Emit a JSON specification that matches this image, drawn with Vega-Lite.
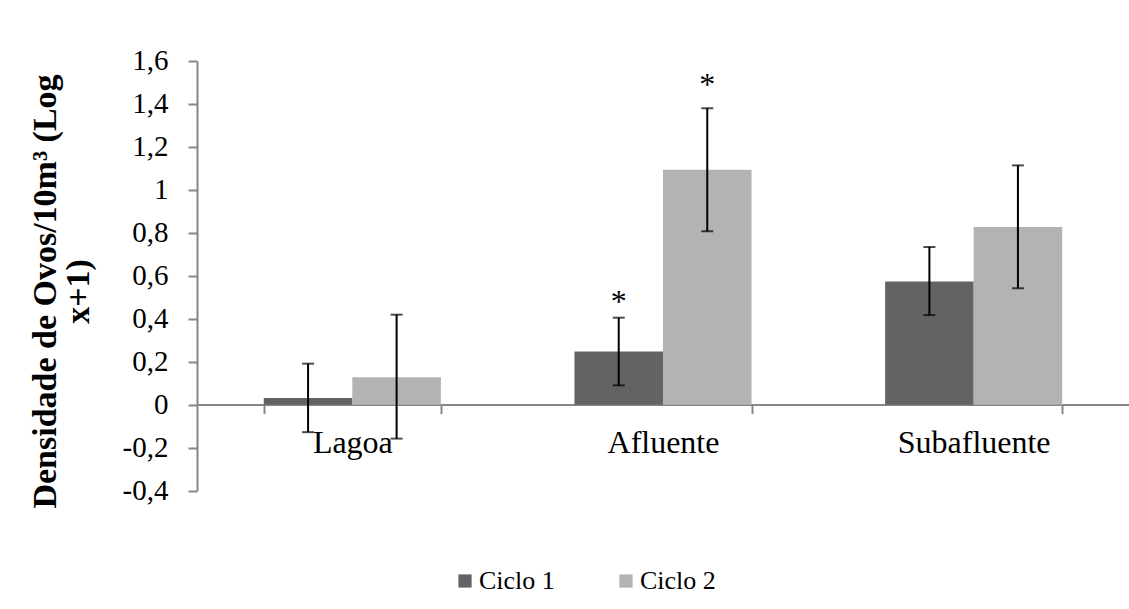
{
  "$schema": "https://vega.github.io/schema/vega-lite/v6.json",
  "width": 932,
  "height": 429.6,
  "autosize": {"type": "none"},
  "padding": {"left": 197, "top": 61, "right": 0, "bottom": 118},
  "background": "white",
  "config": {
    "view": {"stroke": null},
    "locale": {"number": {"decimal": ",", "thousands": ".", "grouping": [3], "currency": ["", ""], "minus": "-"}},
    "font": "Liberation Serif",
    "axisY": {
      "titleFont": "Liberation Serif", "titleFontSize": 34, "titleFontWeight": "bold",
      "titleColor": "black", "titleLineHeight": 34,
      "titleAngle": -90, "titleAlign": "center", "titleBaseline": "alphabetic",
      "titleX": -142, "titleY": 230,
      "grid": false,
      "domainColor": "#868686", "domainWidth": 2,
      "tickColor": "#868686", "tickWidth": 2, "tickSize": 9,
      "labelFont": "Liberation Serif", "labelFontSize": 29, "labelColor": "black",
      "labelPadding": 20
    },
    "axisX": {
      "domainColor": "#868686", "domainWidth": 2,
      "tickColor": "#868686", "tickWidth": 2, "tickSize": 9,
      "labelFont": "Liberation Serif", "labelFontSize": 32, "labelColor": "black",
      "labelAngle": 0, "labelBaseline": "alphabetic", "labelPadding": 39
    },
    "legend": {
      "labelFont": "Liberation Serif", "labelFontSize": 26, "labelColor": "black", "padding": 0
    }
  },
  "data": {
    "values": [
      {"site": "Lagoa", "cycle": "Ciclo 1", "mean": 0.031, "lo": -0.128, "hi": 0.191, "sig": "", "sig_y": 0},
      {"site": "Lagoa", "cycle": "Ciclo 2", "mean": 0.128, "lo": -0.158, "hi": 0.419, "sig": "", "sig_y": 0},
      {"site": "Afluente", "cycle": "Ciclo 1", "mean": 0.248, "lo": 0.090, "hi": 0.405, "sig": "*", "sig_y": 0.431},
      {"site": "Afluente", "cycle": "Ciclo 2", "mean": 1.094, "lo": 0.807, "hi": 1.380, "sig": "*", "sig_y": 1.443},
      {"site": "Subafluente", "cycle": "Ciclo 1", "mean": 0.574, "lo": 0.417, "hi": 0.734, "sig": "", "sig_y": 0},
      {"site": "Subafluente", "cycle": "Ciclo 2", "mean": 0.827, "lo": 0.542, "hi": 1.114, "sig": "", "sig_y": 0}
    ]
  },
  "encoding": {
    "x": {
      "field": "site", "type": "nominal", "sort": ["Lagoa", "Afluente", "Subafluente"],
      "scale": {"paddingInner": 0.43, "paddingOuter": 0.215},
      "axis": {"title": null, "orient": "bottom", "offset": -86, "tickBand": "extent"}
    },
    "xOffset": {"field": "cycle", "type": "nominal", "scale": {"paddingInner": 0, "paddingOuter": 0}}
  },
  "layer": [
    {
      "mark": {"type": "bar"},
      "encoding": {
        "y": {
          "field": "mean", "type": "quantitative",
          "scale": {"domain": [-0.4, 1.6], "nice": false, "zero": false},
          "axis": {
            "title": ["Densidade de Ovos/10m³ (Log", "x+1)"],
            "values": [-0.4, -0.2, 0, 0.2, 0.4, 0.6, 0.8, 1, 1.2, 1.4, 1.6],
            "format": ".1~f"
          }
        },
        "color": {
          "field": "cycle", "type": "nominal",
          "scale": {"domain": ["Ciclo 1", "Ciclo 2"], "range": ["#636363", "#b3b3b3"]},
          "legend": {
            "title": null, "orient": "none", "direction": "horizontal",
            "legendX": 255, "legendY": 507,
            "symbolType": "square", "symbolSize": 175, "symbolStrokeWidth": 0,
            "labelOffset": 1, "columnPadding": 58
          }
        }
      }
    },
    {
      "mark": {"type": "rule", "color": "black", "strokeWidth": 2},
      "encoding": {
        "y": {"field": "lo", "type": "quantitative"},
        "y2": {"field": "hi"}
      }
    },
    {
      "mark": {"type": "tick", "color": "black", "thickness": 2, "size": 12},
      "encoding": {"y": {"field": "lo", "type": "quantitative"}}
    },
    {
      "mark": {"type": "tick", "color": "black", "thickness": 2, "size": 12},
      "encoding": {"y": {"field": "hi", "type": "quantitative"}}
    },
    {
      "mark": {"type": "text", "font": "Liberation Serif", "fontSize": 32, "baseline": "alphabetic", "align": "center", "color": "black"},
      "encoding": {
        "y": {"field": "sig_y", "type": "quantitative"},
        "text": {"field": "sig"}
      }
    }
  ]
}
